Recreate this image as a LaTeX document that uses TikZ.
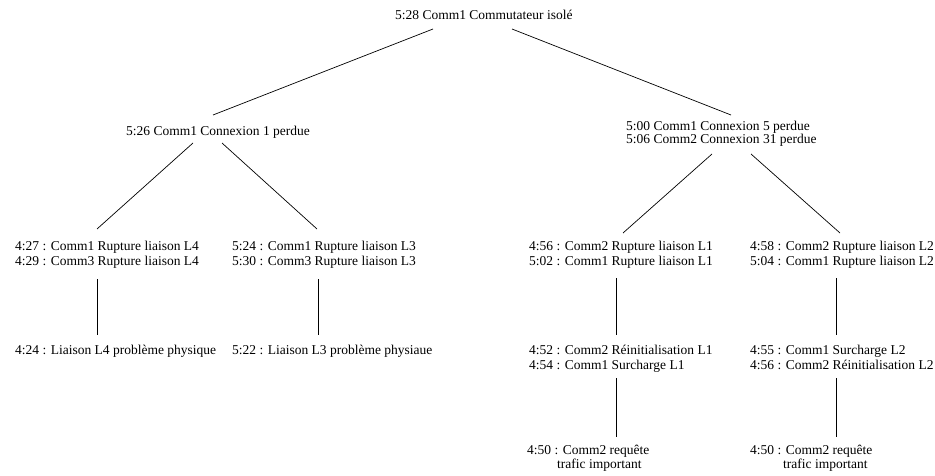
\documentclass[tikz,border=0pt]{standalone}
\usepackage{fontspec}
\setmainfont{Liberation Serif}
\usepackage{tikz}
\usetikzlibrary{positioning,calc}

\begin{document}
\begin{tikzpicture}[
    x=1pt, y=-1pt,
    event/.style={inner sep=0pt, anchor=base west, align=left, font=\fontsize{13.5}{14.5}\selectfont},
    tight/.style={font=\fontsize{13.5}{12.3}\selectfont},
    loose/.style={font=\fontsize{13.5}{15.3}\selectfont},
    link/.style={line width=0.7pt}
]
\useasboundingbox (0,0) rectangle (935,476);

% Root
\node[event] (root) at (395,20) {5:28 Comm1 Commutateur isolé};

% Level 1
\node[event] (conn1) at (126,135.5) {5:26 Comm1 Connexion 1 perdue};
\node[event, tight] (conn5) at (626,143.3) {5:00 Comm1 Connexion 5 perdue\\5:06 Comm2 Connexion 31 perdue};

% Level 2
\node[event] (ruptL4) at (15,265) {4:27 : Comm1 Rupture liaison L4\\4:29 : Comm3 Rupture liaison L4};
\node[event] (ruptL3) at (232,265) {5:24 : Comm1 Rupture liaison L3\\5:30 : Comm3 Rupture liaison L3};
\node[event] (ruptL1) at (529,265) {4:56 : Comm2 Rupture liaison L1\\5:02 : Comm1 Rupture liaison L1};
\node[event] (ruptL2) at (750,265) {4:58 : Comm2 Rupture liaison L2\\5:04 : Comm1 Rupture liaison L2};

% Level 3
\node[event] (physL4) at (15,354) {4:24 : Liaison L4 problème physique};
\node[event] (physL3) at (232,354) {5:22 : Liaison L3 problème physiaue};
\node[event, loose] (reinitL1) at (529,369.3) {4:52 : Comm2 Réinitialisation L1\\4:54 : Comm1 Surcharge L1};
\node[event, loose] (surchL2) at (750,369.3) {4:55 : Comm1 Surcharge L2\\4:56 : Comm2 Réinitialisation L2};

% Level 4
\node[event, tight] (traficL1) at (527,468.3) {4:50 : Comm2 requête\\\hspace*{30pt}trafic important};
\node[event, tight] (traficL2) at (750,468.3) {4:50 : Comm2 requête\\\hspace*{33pt}trafic important};

% Links
\draw[link] ($(root.base west)+(38,9)$) -- ($(conn1.base west)+(87,-20.5)$);
\draw[link] ($(root.base west)+(117,9)$) -- ($(conn5.base west)+(105,-28.3)$);

\draw[link] ($(conn1.base west)+(67,7.5)$) -- ($(ruptL4.base west)+(82,-36)$);
\draw[link] ($(conn1.base west)+(96,7.5)$) -- ($(ruptL3.base west)+(85,-36)$);
\draw[link] ($(conn5.base west)+(86,10.7)$) -- ($(ruptL1.base west)+(94,-32)$);
\draw[link] ($(conn5.base west)+(125,10.7)$) -- ($(ruptL2.base west)+(90,-32)$);

\draw[link] ($(ruptL4.base west)+(82,14)$) -- ($(physL4.base west)+(82,-19)$);
\draw[link] ($(ruptL3.base west)+(86,14)$) -- ($(physL3.base west)+(86,-19)$);
\draw[link] ($(ruptL1.base west)+(87,13)$) -- ($(reinitL1.base west)+(87,-34.3)$);
\draw[link] ($(ruptL2.base west)+(86,13)$) -- ($(surchL2.base west)+(86,-34.3)$);

\draw[link] ($(reinitL1.base west)+(87,8.7)$) -- ($(traficL1.base west)+(89,-31.3)$);
\draw[link] ($(surchL2.base west)+(86,8.7)$) -- ($(traficL2.base west)+(86,-31.3)$);

\end{tikzpicture}
\end{document}
